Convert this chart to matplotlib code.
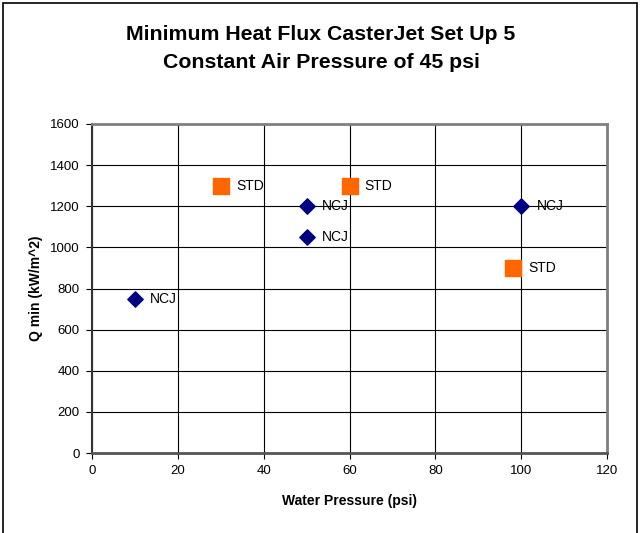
import matplotlib.pyplot as plt
from matplotlib.patches import Rectangle

# NCJ (diamonds) and STD (squares) readings
NCJ_X = [10, 50, 50, 100]
NCJ_Y = [750, 1200, 1050, 1200]
STD_X = [30, 60, 98]
STD_Y = [1300, 1300, 900]

X_TICKS = list(range(0, 121, 20))
Y_TICKS = list(range(0, 1601, 200))

plt.rcParams["font.family"] = ["Liberation Sans", "DejaVu Sans"]

W, H = 642, 533
fig = plt.figure(figsize=(W / 100, H / 100), dpi=100)
fig.patch.set_facecolor("white")

# outer chart frame (open at the bottom, as in the source)
fig.patches.append(Rectangle((2.5 / W, -0.05), 634 / W, 1.05 - 3 / H,
                             transform=fig.transFigure, fill=False,
                             edgecolor="black", linewidth=1.2))

ax = fig.add_axes([92 / W, 1 - 453 / H, (607 - 92) / W, (453 - 124) / H])

ax.scatter(NCJ_X, NCJ_Y, marker="D", s=7.8 ** 2, color="#000080", zorder=3)
ax.scatter(STD_X, STD_Y, marker="s", s=11 ** 2, color="#FF6600", zorder=3)

for x, y in zip(NCJ_X, NCJ_Y):
    ax.annotate("NCJ", (x, y), xytext=(11, 0), textcoords="offset points",
                ha="left", va="center", fontsize=10)
for x, y in zip(STD_X, STD_Y):
    ax.annotate("STD", (x, y), xytext=(11, 0), textcoords="offset points",
                ha="left", va="center", fontsize=10)

ax.set_xlim(0, 120)
ax.set_ylim(0, 1600)
ax.set_xticks(X_TICKS)
ax.set_yticks(Y_TICKS)
ax.grid(True, color="black", linewidth=0.8)
ax.set_axisbelow(True)

ax.tick_params(direction="out", length=4, width=0.8, labelsize=9.5, pad=5)
for side in ["top", "right"]:
    ax.spines[side].set_color("#808080")
    ax.spines[side].set_linewidth(2)
ax.spines["left"].set_color("#333333")
ax.spines["left"].set_linewidth(1.5)
ax.spines["bottom"].set_color("#555555")
ax.spines["bottom"].set_linewidth(2)

ax.set_xlabel("Water Pressure (psi)", fontsize=10, fontweight="bold", labelpad=12)
ax.set_ylabel("Q min (kW/m^2)", fontsize=10, fontweight="bold", labelpad=5)

fig.text(0.5, 1 - 40 / H, "Minimum Heat Flux CasterJet Set Up 5",
         ha="center", va="baseline", fontsize=15.3, fontweight="bold")
fig.text(0.5, 1 - 68 / H, "Constant Air Pressure of 45 psi",
         ha="center", va="baseline", fontsize=15.3, fontweight="bold")

fig.savefig("out.png", dpi=100)
